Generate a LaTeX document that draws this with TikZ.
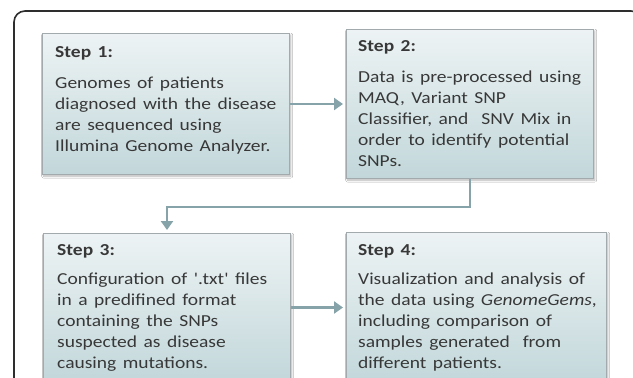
\documentclass[tikz,border=0pt]{standalone}
\usepackage{fontspec}
\setmainfont{Carlito}
\usetikzlibrary{arrows.meta,calc,shadows.blur}

\definecolor{frameline}{HTML}{2E2E2E}
\definecolor{boxtop}{HTML}{EDF3F4}
\definecolor{boxbottom}{HTML}{C2D7DA}
\definecolor{boxline}{HTML}{A2AAAD}
\definecolor{linkcol}{HTML}{86A3A9}
\definecolor{textcol}{HTML}{383838}

\tikzset{
  stepbox/.style={rectangle, draw=boxline, line width=1pt,
    top color=boxtop, bottom color=boxbottom, inner sep=0pt,
    anchor=north west,
    blur shadow={shadow xshift=1.2pt, shadow yshift=-1.6pt,
      shadow blur steps=6, shadow blur radius=2pt, shadow opacity=30}},
  steptext/.style={anchor=base west, inner sep=0pt, text width=250pt,
    align=left, text=textcol, yscale=0.86,
    font=\fontsize{19.5pt}{24.4pt}\selectfont},
  link/.style={draw=linkcol, line width=2.8pt,
    -{Triangle[width=12pt,length=9pt]}, shorten >=3pt},
}

\begin{document}
\begin{tikzpicture}[x=1pt,y=1pt]
  \useasboundingbox (0,0) rectangle (633,-378);
  \fill[white] (0,0) rectangle (633,-378);
  \clip (0,0) rectangle (633,-378);

  % outer frame
  \draw[frameline, line width=1.6pt, rounded corners=11pt]
    (14,-11) rectangle (642,-430);

  % boxes
  \node[stepbox, minimum width=247pt, minimum height=141pt] (s1) at (42,-33) {};
  \node[stepbox, minimum width=247pt, minimum height=149pt] (s2) at (346,-29) {};
  \node[stepbox, minimum width=247pt, minimum height=148pt] (s3) at (43,-233) {};
  \node[stepbox, minimum width=260pt, minimum height=152pt] (s4) at (346,-232) {};

  % texts
  \node[steptext] (t1) at (55,-57)
    {\textbf{Step 1:}\\[12.8pt]
     Genomes of patients\\
     diagnosed with the disease\\
     are sequenced using\\
     Illumina Genome Analyzer.};
  \node[steptext] (t2) at (358,-51)
    {\textbf{Step 2:}\\[12.8pt]
     Data is pre-processed using\\
     MAQ, Variant SNP\\
     Classifier, and~ SNV Mix in\\
     order to identify potential\\
     SNPs.};
  \node[steptext] (t3) at (57,-255)
    {\textbf{Step 3:}\\[10pt]
     Configuration of \textquotesingle.txt\textquotesingle{} files\\
     in a predifined format\\
     containing the SNPs\\
     suspected as disease\\
     causing mutations.};
  \node[steptext] (t4) at (358,-255)
    {\textbf{Step 4:}\\[10pt]
     Visualization and analysis of\\
     the data using \textit{GenomeGems},\\
     including comparison of\\
     samples generated~ from\\
     different patients.};

  % connectors
  \draw[link] (s1.east) -- (s2.west);
  \coordinate (bend) at ($(s2.south)+(0,-28)$);
  \draw[link] (s2.south) -- (bend) -| (s3.north);
  \draw[link] (s3.east) -- (s3.east -| s4.west);
\end{tikzpicture}
\end{document}
